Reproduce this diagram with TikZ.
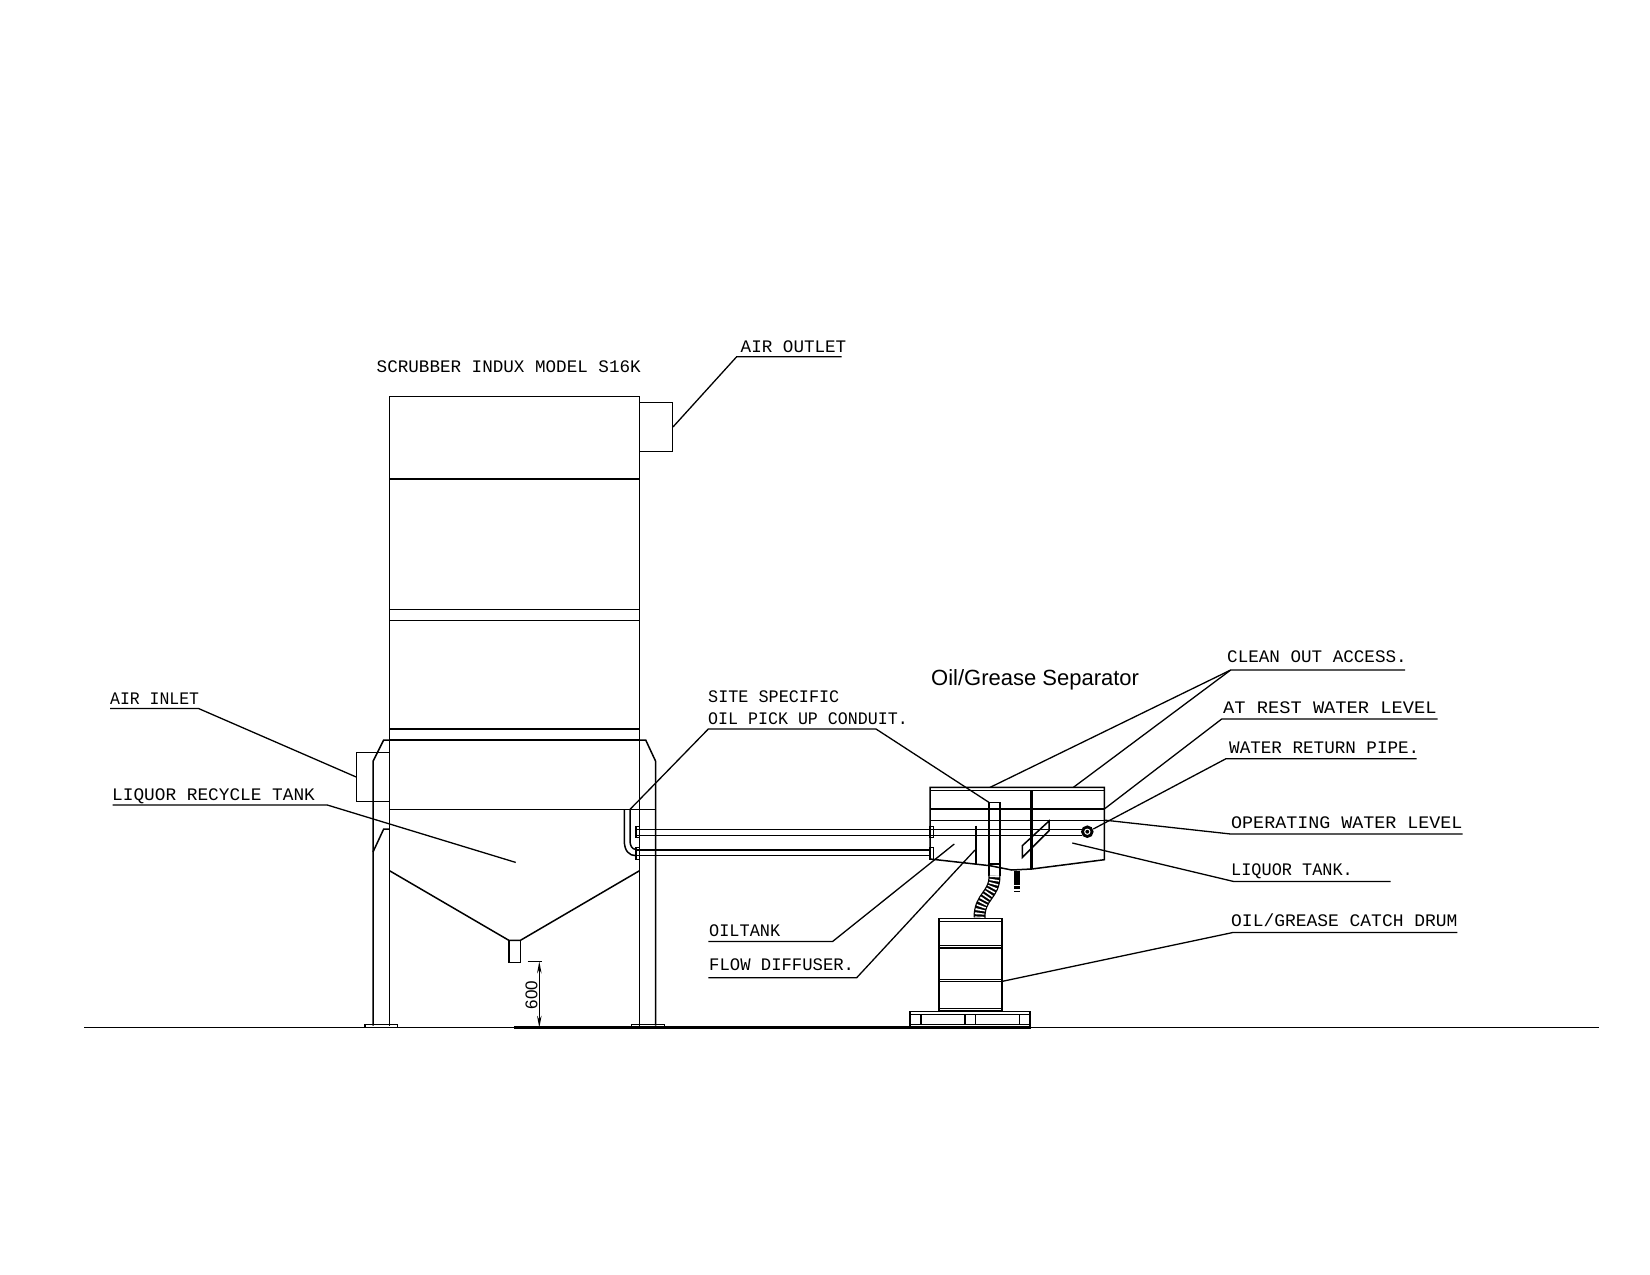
\documentclass[tikz,border=0pt]{standalone}
\usepackage{fontspec}
\setmainfont{Liberation Sans}
\setmonofont{Liberation Mono}
\usetikzlibrary{arrows.meta}
\newcommand{\widen}[2]{\scalebox{#1}[1]{#2}}
\tikzset{
  part/.style={line width=1.5pt,line join=miter},
  heavy/.style={line width=3pt},
  leader/.style={line width=1.3pt},
  tag/.style={anchor=base west,inner sep=0pt,font=\fontsize{17.6}{20}\selectfont\ttfamily},
  dim/.style={line width=1.2pt,{Stealth[length=12pt,width=4.5pt]}-{Stealth[length=12pt,width=4.5pt]}}
}
\begin{document}
\begin{tikzpicture}[x=1pt,y=-1pt,yshift=-.7pt]
  \useasboundingbox (0,-0.7) rectangle (1650,1274.3);
  % ground
  \draw [part] (84,1026.7) -- (1599,1026.7);
  \draw [line width=2.2pt] (514,1026.7) -- (1030,1026.7);
  % scrubber body
  \draw [part] (389.5,1025) -- (389.5,395.7) -- (639.5,395.7) -- (639.5,1025);
  \foreach \y in {478.3,608.7,619.7,728.3,739.3}
    \draw [part] (389.5,\y) -- (639.5,\y);
  \draw [part] (389.5,808.7) -- (655.7,808.7);
  \draw [part] (389.5,870) -- (509,939.7) -- (520.3,939.7) -- (639.5,870);
  \draw [part] (509,939.7) rectangle (520.3,961.7);
  % legs
  \draw [part] (373,1025) -- (373,760.7) -- (383.7,739.3) -- (389.5,739.3);
  \draw [part] (373,851.3) -- (383.7,828.3) -- (389.5,828.3);
  \draw [part] (639.5,739.3) -- (645.7,739.3) -- (655.7,760.7) -- (655.7,1025);
  \draw [part] (365,1027) -- (365,1024) -- (397.7,1024) -- (397.7,1027);
  \draw [part] (631.3,1027) -- (631.3,1024) -- (664.3,1024) -- (664.3,1027);
  % air ducts
  \node [part,draw,inner sep=0pt,minimum width=32.8pt,minimum height=49pt] (inletbox) at (373.1,776.2) {};
  \node [part,draw,inner sep=0pt,minimum width=32.8pt,minimum height=49pt] (outletbox) at (655.9,426.2) {};
  % conduit
  \draw [part] (624.3,808.7) -- (624.3,840) .. controls (624.3,850) and (629,855) .. (636,855);
  \draw [part] (630,808.7) -- (630,840) .. controls (630,845) and (632,848.7) .. (636,848.7);
  \draw [part] (636,828.7) -- (1081.7,828.7);
  \draw [part] (636,834.7) -- (1081.7,834.7);
  \draw [part] (636,849.3) -- (930,849.3);
  \draw [part] (636,855) -- (930,855);
  \foreach \x in {636,930} {
    \draw [part] (\x,826) rectangle ++(3.7,11);
    \draw [part] (\x,846.7) rectangle ++(3.7,12.3);
  }
  % separator tank
  \draw [part] (930,858.3) -- (930,786.7) -- (1104.3,786.7) -- (1104.3,859)
    -- (1031.7,868.3) -- (1011.7,869.3) -- (990,865) -- cycle;
  \foreach \y in {790,808.3,820}
    \draw [part] (930,\y) -- (1104.3,\y);
  \draw [heavy] (1031.7,790) -- (1031.7,868.3);
  \draw [line width=2.2pt] (976.3,825) -- (976.3,864.3);
  \draw [part] (1022.3,845) -- (1049,820.3) -- (1049,830) -- (1022.3,856.7) -- cycle;
  \draw [part] (989,875) -- (989,801.7) -- (1000,801.7) -- (1000,875);
  \draw [line width=2pt] (989,863.3) -- (1000,863.3);
  \draw [line width=6pt,dash pattern=on 14pt off 1.5pt on 3pt off 1.5pt on 2pt off 0pt] (1017.3,870) -- (1017.3,891.7);
  \draw [part,fill=black] (1087.3,831) circle (5.5pt);
  \draw [line width=1pt,white] (1087.3,831) circle (2.6pt);
  % hose
  \draw [line width=12pt] (994.5,875) .. controls (994.5,895) and (979.5,895) .. (979.5,917);
  \draw [line width=9.5pt,white,dash pattern=on 1.5pt off 2.2pt] (994.5,875) .. controls (994.5,895) and (979.5,895) .. (979.5,917);
  % drum
  \draw [line width=1.8pt] (939,917.7) rectangle (1002,1010);
  \foreach \y in {921,945,947.3,979,981,1007.7}
    \draw [line width=1.1pt] (939,\y) -- (1002,\y);
  % pallet
  \draw [line width=1.8pt] (910.3,1010.7) rectangle (1030.3,1027);
  \draw [part] (910.3,1014) -- (1030.3,1014);
  \draw [part] (910.3,1024) -- (1030.3,1024);
  \foreach \x in {921,965,975.3,1019.3}
    \draw [part] (\x,1014) -- (\x,1024);
  % dimension
  \coordinate (dimtop) at (539.3,960.7);
  \coordinate (dimbot) at (539.3,1027);
  \draw [leader] (527.7,960.7) -- (542.3,960.7);
  \draw [dim] (dimtop) -- (dimbot);
  \node [rotate=90,inner sep=0pt,font=\fontsize{17}{20}\selectfont] (dimtext) at (531.5,994.5) {600};
  % labels
  \node [tag] (scrubbertag) at (376.5,371.7) {SCRUBBER INDUX MODEL S16K};
  \node [tag] (outlettag) at (740.5,352) {AIR OUTLET};
  \node [tag] (inlettag) at (110,704) {\widen{.935}{AIR INLET}};
  \node [tag] (recycletag) at (112,800) {\widen{1.01}{LIQUOR RECYCLE TANK}};
  \node [tag] (sitetag) at (708,702) {\widen{.955}{SITE SPECIFIC}};
  \node [tag] (conduittag) at (708,724) {\widen{.945}{OIL PICK UP CONDUIT.}};
  \node [anchor=base west,inner sep=0pt,font=\fontsize{22}{26}\selectfont] (septag) at (931,684.5) {Oil/Grease Separator};
  \node [tag] (cleantag) at (1227,662) {CLEAN OUT ACCESS.};
  \node [tag] (resttag) at (1223,713) {\widen{1.063}{AT REST WATER LEVEL}};
  \node [tag] (returntag) at (1229,753) {WATER RETURN PIPE.};
  \node [tag] (operatingtag) at (1231,828) {\widen{1.043}{OPERATING WATER LEVEL}};
  \node [tag] (liquortag) at (1231,875) {\widen{.96}{LIQUOR TANK.}};
  \node [tag] (drumtag) at (1231,926) {\widen{1.02}{OIL/GREASE CATCH DRUM}};
  \node [tag] (oiltag) at (709,936) {\widen{.96}{OILTANK}};
  \node [tag] (flowtag) at (709,970) {\widen{.98}{FLOW DIFFUSER.}};
  % leader ends
  \coordinate (cleanA) at (990,786.7);
  \coordinate (cleanB) at (1073.3,786.7);
  \coordinate (restend) at (1104.3,808.3);
  \coordinate (returnend) at (1093.3,828.3);
  \coordinate (operatingend) at (1104.3,819.4);
  \coordinate (liquorend) at (1072.3,842.3);
  \coordinate (drumend) at (1002,980.7);
  \coordinate (oilend) at (954.3,843.3);
  \coordinate (flowend) at (975,849.3);
  \coordinate (recycleend) at (515.7,861.7);
  \coordinate (conduitA) at (630,808.7);
  \coordinate (conduitB) at (989,801.7);
  % leaders
  \draw [leader] (841.7,356) -- (736.7,356) -- (outletbox.east);
  \draw [leader] (110,707.7) -- (198.3,707.7) -- (inletbox.west);
  \draw [leader] (112.7,804.3) -- (327.3,804.3) -- (recycleend);
  \draw [leader] (conduitA) -- (708.3,728.3) -- (876,728.3) -- (conduitB);
  \draw [leader] (cleanA) -- (1230.7,669.3) -- (1405,669.3);
  \draw [leader] (cleanB) -- (1230.7,669.3);
  \draw [leader] (restend) -- (1221.7,718.3) -- (1437.7,718.3);
  \draw [leader] (returnend) -- (1226,758) -- (1416.7,758);
  \draw [leader] (operatingend) -- (1230.7,833.3) -- (1462.7,833.3);
  \draw [leader] (liquorend) -- (1233.3,880.7) -- (1390.7,880.7);
  \draw [leader] (drumend) -- (1233.3,931.7) -- (1457.3,931.7);
  \draw [leader] (oilend) -- (832.7,940.7) -- (708.3,940.7);
  \draw [leader] (flowend) -- (856.7,977) -- (708.3,977);
\end{tikzpicture}
\end{document}
